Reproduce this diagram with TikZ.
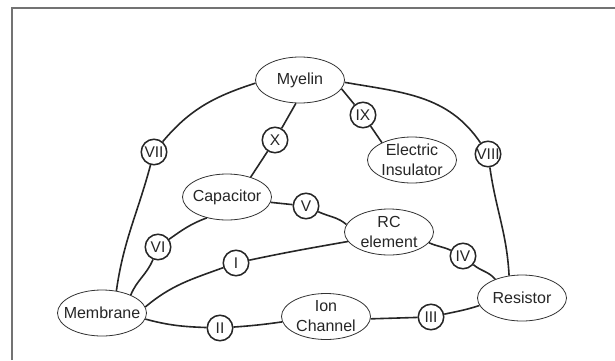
\documentclass[tikz,border=0pt]{standalone}
\usepackage{fontspec}
\setmainfont{Liberation Sans}
\usetikzlibrary{shapes.geometric}

\begin{document}
\begin{tikzpicture}[
  x=1pt, y=1pt,
  concept/.style={
    draw=black!80, ellipse, line width=0.8pt, fill=white,
    minimum width=89pt, minimum height=46pt,
    inner xsep=-7pt, inner ysep=-1.5pt,
    align=center, font=\fontsize{16}{20}\selectfont, text=black!85
  },
  rel/.style={
    draw=black!85, circle, line width=1.5pt, fill=white,
    minimum size=25.5pt, inner sep=0pt,
    font=\fontsize{15.5}{16}\selectfont, text=black!85
  },
  lnk/.style={draw=black!85, line width=1.6pt},
]
\useasboundingbox (0,0) rectangle (615,360);

%% frame
\draw[black!55, line width=1.2pt] (12,0) -- (12,352) -- (615,352);

%% concepts
\node[concept] (myelin) at (300,280) {Myelin};
\node[concept] (insul)  at (412,200) {Electric\\Insulator};
\node[concept] (capac)  at (227,163) {Capacitor};
\node[concept] (rcel)   at (389,128) {RC\\element};
\node[concept] (membr)  at (102,47)  {Membrane};
\node[concept] (ionch)  at (326,43.5) {Ion\\Channel};
\node[concept] (resis)  at (522,62)  {Resistor};

%% relations
\node[rel] (r1)  at (236,97)  {I};
\node[rel] (r2)  at (220,32)  {II};
\node[rel] (r3)  at (431,43)  {III};
\node[rel] (r4)  at (463,104) {IV};
\node[rel] (r5)  at (306,154) {V};
\node[rel] (r6)  at (158,113) {VI};
\node[rel] (r7)  at (154,208) {VII};
\node[rel] (r8)  at (488,206) {VIII};
\node[rel] (r9)  at (363,245) {IX};
\node[rel] (r10) at (275,220) {X};

%% Myelin -- VII -- Membrane
\draw[lnk] (myelin.184) to[out=198,in=50] (r7) to[out=-105,in=82] (membr.57);
%% Myelin -- VIII -- Resistor
\draw[lnk] (myelin.-3) to[out=-10,in=124] (r8) to[out=-82,in=93] (resis.120);
%% Myelin -- X -- Capacitor
\draw[lnk] (myelin.260) -- (r10) -- (capac.40);
%% Myelin -- IX -- Electric Insulator
\draw[lnk] (myelin.-12) -- (r9) -- (insul.150);

%% Capacitor -- V -- RC element
\draw[lnk] (capac.-7) -- (r5) to[out=-25,in=140] (rcel.170);
%% Capacitor -- VI -- Membrane
\draw[lnk] (capac.226) to[out=200,in=35] (r6) to[out=-112,in=68] (membr.32);

%% RC element -- I -- Membrane
\draw[lnk] (rcel.193) to[out=190,in=12] (r1) to[out=200,in=40] (membr.8);
%% RC element -- IV -- Resistor
\draw[lnk] (rcel.-15) to[out=-25,in=155] (r4) to[out=-40,in=130] (resis.145);

%% Membrane -- II -- Ion Channel
\draw[lnk] (membr.-8) to[out=-15,in=178] (r2) to[out=4,in=188] (ionch.187);
%% Ion Channel -- III -- Resistor
\draw[lnk] (ionch.-3) -- (r3) to[out=12,in=198] (resis.190);
\end{tikzpicture}
\end{document}
